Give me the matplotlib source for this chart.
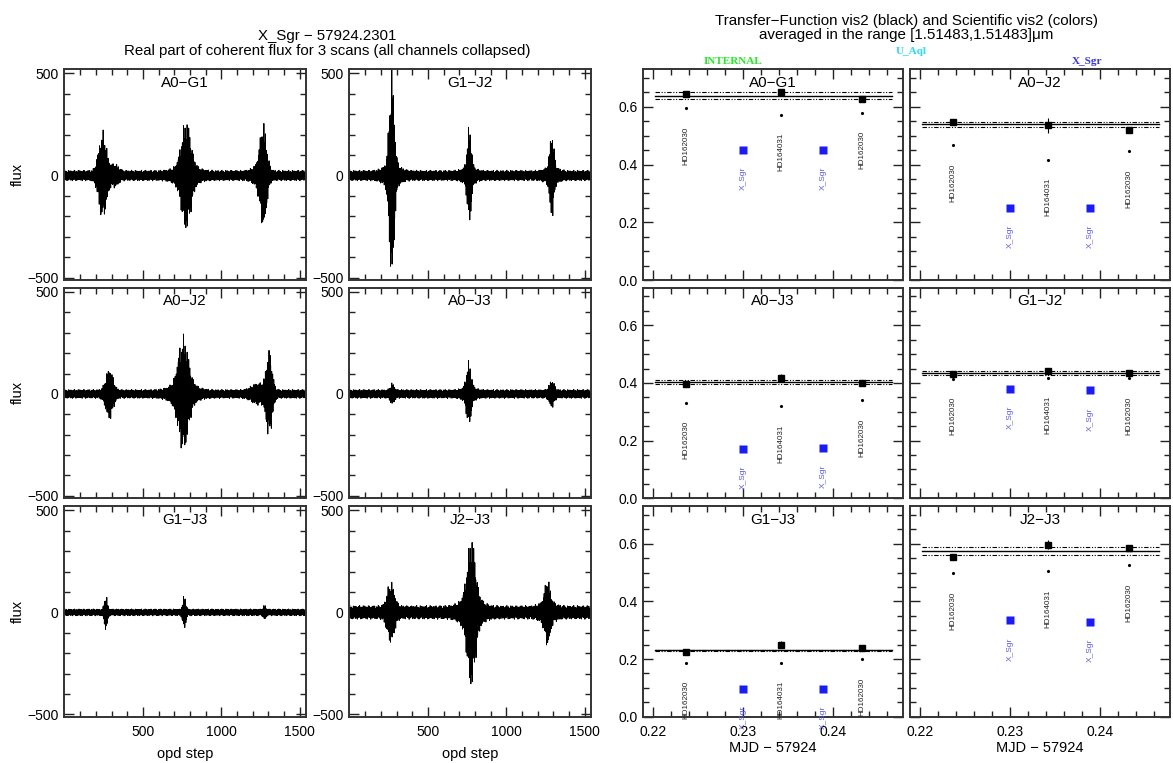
import numpy as np
import matplotlib
matplotlib.use('Agg')
import matplotlib.pyplot as plt
from matplotlib.ticker import MultipleLocator, FixedLocator, FormatStrFormatter

plt.rcParams['font.family'] = ['Liberation Sans', 'DejaVu Sans']

# ---------------- data ----------------
baselines = ['A0\u2212G1', 'A0\u2212J2', 'A0\u2212J3', 'G1\u2212J2', 'G1\u2212J3', 'J2\u2212J3']
fringe_names = ['A0\u2212G1', 'G1\u2212J2', 'A0\u2212J2', 'A0\u2212J3', 'G1\u2212J3', 'J2\u2212J3']

# fringe packets: (opd step centre, amplitude, width)
packets = [
    [(242, 200, 24), (320, 35, 22), (775, 225, 28), (775, 35, 60), (1268, 225, 20), (1240, 30, 35)],
    [(268, 480, 15), (268, 40, 45), (763, 205, 12), (763, 25, 35), (1290, 175, 12), (1290, 25, 35)],
    [(285, 110, 22), (757, 230, 30), (757, 45, 65), (1305, 195, 18), (1235, 35, 40)],
    [(271, 35, 12), (760, 125, 14), (760, 20, 35), (1290, 50, 15)],
    [(262, 75, 9), (763, 72, 9), (1276, 22, 8)],
    [(262, 125, 22), (776, 300, 24), (776, 60, 55), (1262, 110, 16), (1262, 30, 40)],
]
noise_level = [26, 26, 22, 22, 17, 34]
n_steps = 1536

# vis2 panels
mjd_cal = [0.2237, 0.2342, 0.2432]
mjd_sci = [0.2300, 0.2389]
cal_names = ['HD162030', 'HD164031', 'HD162030']
sci_name = 'X_Sgr'
tf_span = [0.2202, 0.2466]

tf_vals = [[0.646, 0.651, 0.626], [0.547, 0.536, 0.519], [0.395, 0.418, 0.401],
           [0.431, 0.443, 0.435], [0.225, 0.249, 0.240], [0.554, 0.597, 0.587]]
tf_err = [[0.006, 0.010, 0.006], [0.006, 0.025, 0.010], [0.006, 0.012, 0.006],
          [0.008, 0.008, 0.010], [0.005, 0.012, 0.006], [0.005, 0.015, 0.005]]
raw_vals = [[0.595, 0.573, 0.580], [0.466, 0.416, 0.446], [0.332, 0.319, 0.340],
            [0.415, 0.418, 0.416], [0.187, 0.187, 0.199], [0.497, 0.505, 0.525]]
sci_vals = [[0.451, 0.451], [0.251, 0.251], [0.172, 0.174],
            [0.380, 0.374], [0.096, 0.096], [0.335, 0.329]]
tf_mean = [0.637, 0.541, 0.402, 0.435, 0.230, 0.576]
tf_lo = [0.626, 0.531, 0.395, 0.427, 0.227, 0.562]
tf_hi = [0.652, 0.549, 0.411, 0.443, 0.233, 0.588]

# ---------------- figure ----------------
W, H = 1173, 763
fig = plt.figure(figsize=(W / 100, H / 100), dpi=100)

left_cols = [(64, 306), (349, 591)]
right_cols = [(643, 903), (910, 1170)]
rows = [(69, 280), (287.5, 498.3), (506, 716.7)]


def add_ax(xs, ys):
    x0, x1 = xs
    y0, y1 = ys
    return fig.add_axes([x0 / W, 1 - y1 / H, (x1 - x0) / W, (y1 - y0) / H])


def style(ax):
    ax.tick_params(which='both', direction='in', top=True, right=True,
                   labelsize=10, width=1, color='#222222')
    ax.tick_params(which='major', length=7)
    ax.tick_params(which='minor', length=4)
    ax.tick_params(axis='x', pad=6)
    ax.tick_params(axis='y', pad=4)
    for s in ax.spines.values():
        s.set_linewidth(1.4)
        s.set_color('#333333')


# left: fringe scans
steps = np.arange(n_steps)
for i, name in enumerate(fringe_names):
    r, c = divmod(i, 2)
    ax = add_ax(left_cols[c], rows[r])
    env = np.full(n_steps, float(noise_level[i]))
    for cen, amp, wid in packets[i]:
        env += amp * np.exp(-0.5 * ((steps - cen) / wid) ** 2)
    flux = env * np.cos(2 * np.pi * steps / 3.31) * (0.8 + 0.2 * np.cos(2 * np.pi * steps / 7.9))
    ax.plot(steps, flux, color='black', lw=0.7)
    ax.set_xlim(-5, 1540)
    ax.set_ylim(-512, 522)
    ax.xaxis.set_major_locator(FixedLocator([500, 1000, 1500]))
    ax.xaxis.set_minor_locator(FixedLocator(np.arange(100, 1501, 100)))
    ax.yaxis.set_major_locator(MultipleLocator(500))
    ax.yaxis.set_minor_locator(MultipleLocator(100))
    style(ax)
    if r < 2:
        ax.set_xticklabels([])
    ax.text(0.5, 1 - 14 / 211, name, transform=ax.transAxes, ha='center',
            va='center', fontsize=11)

for r in range(3):
    fig.text(18 / W, 1 - (rows[r][0] + rows[r][1]) / 2 / H, 'flux', rotation=90,
             ha='center', va='center', fontsize=10.5)
for c in range(2):
    fig.text((left_cols[c][0] + left_cols[c][1]) / 2 / W, 1 - 754 / H, 'opd step',
             ha='center', va='center', fontsize=10.5)

# right: vis2 transfer function
for i, name in enumerate(baselines):
    r, c = divmod(i, 2)
    ax = add_ax(right_cols[c], rows[r])
    ax.set_xlim(0.2189, 0.2478)
    ax.set_ylim(0, 0.731)
    ax.plot(tf_span, [tf_mean[i]] * 2, color='black', lw=1.0)
    for lev in (tf_lo[i], tf_hi[i]):
        ax.plot(tf_span, [lev] * 2, color='black', lw=0.8,
                dashes=(4, 1.5, 1, 1.5, 1, 1.5))
    ax.errorbar(mjd_cal, tf_vals[i], yerr=tf_err[i], fmt='s', color='black',
                ms=5, elinewidth=0.8, capsize=0)
    ax.plot(mjd_cal, raw_vals[i], '.', color='black', ms=2.5)
    ax.plot(mjd_sci, sci_vals[i], 's', color='#1a1aff', ms=5.5, mec='none')
    for x, y, lab in zip(mjd_cal, raw_vals[i], cal_names):
        t = ax.annotate(lab, (x, y), xytext=(0, -18), textcoords='offset pixels',
                        rotation=90, ha='center', va='top', fontsize=5.8,
                        color='#222222')
        t.set_clip_on(True)
    for x, y in zip(mjd_sci, sci_vals[i]):
        t = ax.annotate(sci_name, (x, y), xytext=(0, -17), textcoords='offset pixels',
                        rotation=90, ha='center', va='top', fontsize=6,
                        color='#5555ff')
        t.set_clip_on(True)
    ax.xaxis.set_major_locator(FixedLocator([0.22, 0.23, 0.24]))
    ax.xaxis.set_minor_locator(MultipleLocator(0.002))
    ax.xaxis.set_major_formatter(FormatStrFormatter('%.2f'))
    ax.yaxis.set_major_locator(MultipleLocator(0.2))
    ax.yaxis.set_minor_locator(MultipleLocator(0.05))
    ax.yaxis.set_major_formatter(FormatStrFormatter('%.1f'))
    style(ax)
    if r < 2:
        ax.set_xticklabels([])
    else:
        fig.text((right_cols[c][0] + right_cols[c][1]) / 2 / W, 1 - 748 / H,
                 'MJD \u2212 57924', ha='center', va='center', fontsize=10.5)
    if c == 1:
        ax.set_yticklabels([])
    ax.text(0.5, 1 - 14 / 211, name, transform=ax.transAxes, ha='center',
            va='center', fontsize=11)

# titles
fig.text(327.5 / W, 1 - 36 / H, 'X_Sgr \u2212 57924.2301', ha='center', va='center', fontsize=10.8)
fig.text(327.5 / W, 1 - 51.5 / H, 'Real part of coherent flux for 3 scans (all channels collapsed)',
         ha='center', va='center', fontsize=10.8)
fig.text(906.5 / W, 1 - 20.5 / H, 'Transfer\u2212Function vis2 (black) and Scientific vis2 (colors)',
         ha='center', va='center', fontsize=10.9)
fig.text(906.5 / W, 1 - 34.5 / H, 'averaged in the range [1.51483,1.51483]\u03bcm',
         ha='center', va='center', fontsize=10.9)
fig.text(733 / W, 1 - 61 / H, 'INTERNAL', ha='center', va='center', fontsize=8,
         family='Liberation Serif', weight='bold', color='#22ee22')
fig.text(911 / W, 1 - 51.5 / H, 'U_Aql', ha='center', va='center', fontsize=8,
         family='Liberation Serif', weight='bold', color='#22ddff')
fig.text(1087 / W, 1 - 61 / H, 'X_Sgr', ha='center', va='center', fontsize=8,
         family='Liberation Serif', weight='bold', color='#3333ff')

fig.savefig('out.png', dpi=100)
